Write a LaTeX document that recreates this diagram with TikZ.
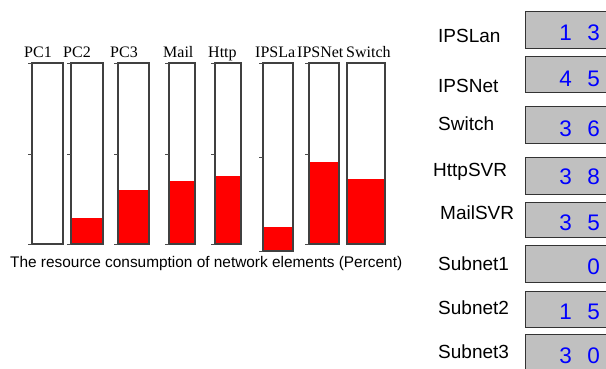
\documentclass[tikz,border=0pt]{standalone}
\usepackage{fontspec}
\setmainfont{Liberation Serif}
\newfontfamily\panelfont{Liberation Sans}
\definecolor{panelgray}{RGB}{192,192,192}
\definecolor{meterred}{RGB}{255,0,0}
\definecolor{digitblue}{RGB}{0,0,255}
\newcommand{\twodig}[2]{\makebox[28pt][r]{#1}\makebox[28pt][r]{#2}}

\begin{document}
\begin{tikzpicture}[x=1pt,y=-1pt]
	\tikzset{
		barname/.style={anchor=base west,inner sep=0pt,font=\fontsize{16}{16}\selectfont},
		gauge/.style={draw=black!75,line width=1.2pt},
		level/.style={fill=meterred},
		tick/.style={draw=black!70,line width=0.6pt},
		tag/.style={anchor=base west,inner sep=0pt,font=\panelfont\fontsize{19}{19}\selectfont},
		readout/.style={draw=black!80,fill=panelgray,line width=0.8pt},
		digit/.style={anchor=base east,inner sep=0pt,text=digitblue,font=\panelfont\fontsize{22.5}{22.5}\selectfont}
	}
	\useasboundingbox (0,0) rectangle (606,369);
	\clip (0,0) rectangle (606,369);
	\fill[white] (0,0) rectangle (606,369);

	% bar labels
	\node[barname] (lPC1) at (24,58) {PC1};
	\node[barname] (lPC2) at (63,58) {PC2};
	\node[barname] (lPC3) at (110,58) {PC3};
	\node[barname] (lMail) at (163,58) {Mail};
	\node[barname] (lHttp) at (208,58) {Http};
	\begin{scope}
		\clip (255,40) rectangle (295,62);
		\node[barname] (lIPSLan) at (255,58) {IPSLan};
	\end{scope}
	\node[barname] (lIPSNet) at (297,58) {IPSNet};
	\node[barname] (lSwitch) at (346,58) {Switch};

	% levels
	\fill[level] (71,218) rectangle (103,244);
	\fill[level] (118,190) rectangle (149,244);
	\fill[level] (169,181) rectangle (195,244);
	\fill[level] (215,176) rectangle (241,244);
	\fill[level] (263,227) rectangle (293,251);
	\fill[level] (309,162) rectangle (339,244);
	\fill[level] (347,179) rectangle (385,244);

	% gauges
	\draw[gauge] (32,63) rectangle (63,244);
	\draw[gauge] (71,63) rectangle (103,244);
	\draw[gauge] (118,63) rectangle (149,244);
	\draw[gauge] (169,63) rectangle (195,244);
	\draw[gauge] (215,63) rectangle (241,244);
	\draw[gauge] (263,63) rectangle (293,251);
	\draw[gauge] (309,63) rectangle (339,244);
	\draw[gauge] (347,63) rectangle (385,244);

	% ticks
	\foreach \xl in {32,71,118,169,215,309}
		\draw[tick] (\xl-4,63) -- (\xl,63) (\xl-4,154) -- (\xl,154) (\xl-4,244) -- (\xl,244);
	\draw[tick] (259,63) -- (263,63) (259,157) -- (263,157) (259,251) -- (263,251);

	\node[anchor=base west,inner sep=0pt,font=\panelfont\fontsize{15.4}{15.4}\selectfont] (caption) at (10,267) {The resource consumption of network elements (Percent)};

	% readouts
	\draw[readout] (525,11) rectangle (615,48);
	\draw[readout] (525,56) rectangle (615,92);
	\draw[readout] (525,106) rectangle (615,143);
	\draw[readout] (525,157) rectangle (615,194);
	\draw[readout] (525,202) rectangle (615,237);
	\draw[readout] (525,245) rectangle (615,282);
	\draw[readout] (525,291) rectangle (615,327);
	\draw[readout] (525,334) rectangle (615,375);

	\node[tag] (tIPSLan) at (438,43) {IPSLan};
	\node[tag] (tIPSNet) at (438,93) {IPSNet};
	\node[tag] (tSwitch) at (438,131) {Switch};
	\node[tag] (tHttpSVR) at (433,176) {HttpSVR};
	\node[tag] (tMailSVR) at (440,219) {MailSVR};
	\node[tag] (tSubnet1) at (438,270) {Subnet1};
	\node[tag] (tSubnet2) at (438,314) {Subnet2};
	\node[tag] (tSubnet3) at (438,358) {Subnet3};

	\node[digit] (vIPSLan) at (600,41) {\twodig{1}{3}};
	\node[digit] (vIPSNet) at (600,87) {\twodig{4}{5}};
	\node[digit] (vSwitch) at (600,136) {\twodig{3}{6}};
	\node[digit] (vHttpSVR) at (600,185) {\twodig{3}{8}};
	\node[digit] (vMailSVR) at (600,230) {\twodig{3}{5}};
	\node[digit] (vSubnet1) at (600,274) {\makebox[28pt][r]{0}};
	\node[digit] (vSubnet2) at (600,319) {\twodig{1}{5}};
	\node[digit] (vSubnet3) at (600,363) {\twodig{3}{0}};
\end{tikzpicture}
\end{document}
